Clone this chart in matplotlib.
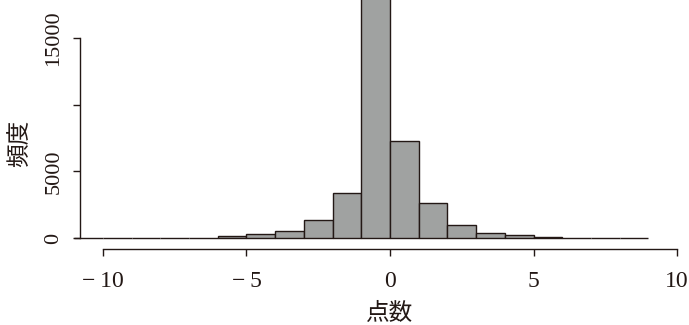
import matplotlib
matplotlib.use('Agg')
import matplotlib.pyplot as plt

# ---- data ----
bin_edges = list(range(-11, 10))
counts = [0, 0, 0, 0, 0, 150, 290, 550, 1350, 3350, 20600, 7250, 2650, 980, 400, 220, 110, 0, 0, 0]
x_ticks = [-10, -5, 0, 5, 10]
x_tick_labels = ['\u2212\u200910', '\u2212\u20095', '0', '5', '10']
y_ticks = [0, 5000, 10000, 15000]
y_tick_labels = ['0', '5000', '', '15000']
xlabel = '点数'
ylabel = '頻度'

W, H = 689, 325
fig = plt.figure(figsize=(W / 100, H / 100), dpi=100)
ink = '#231815'
fill = '#a0a2a1'

# axes in pixel geometry (R-like plot region, partly beyond the figure)
left_px, right_px, bottom_px, top_px = 80, 700, 249, -47.6
ax = fig.add_axes([left_px / W, (H - bottom_px) / H,
                   (right_px - left_px) / W, (bottom_px - top_px) / H])

ymax = max(counts)
ax.set_xlim(-10.8, 10.8)
ax.set_ylim(-0.04 * ymax, 1.04 * ymax)

lefts = bin_edges[:-1]
widths = [b - a for a, b in zip(bin_edges[:-1], bin_edges[1:])]
ax.bar(lefts, counts, width=widths, align='edge', color=fill,
       edgecolor=ink, linewidth=1.0, clip_on=False)

for s in ['top', 'right']:
    ax.spines[s].set_visible(False)
ax.spines['left'].set_bounds(y_ticks[0], y_ticks[-1])
ax.spines['bottom'].set_bounds(x_ticks[0], x_ticks[-1])
for s in ['left', 'bottom']:
    ax.spines[s].set_color(ink)
    ax.spines[s].set_linewidth(1.0)

ax.set_xticks(x_ticks)
ax.set_xticklabels(x_tick_labels, fontfamily='Liberation Serif', fontsize=17, color=ink)
ax.set_yticks(y_ticks)
ax.set_yticklabels(y_tick_labels, fontfamily='Liberation Serif', fontsize=16, color=ink,
                   rotation=90, va='center')
ax.tick_params(axis='x', direction='out', length=5, width=1.0, colors=ink, pad=11)
ax.tick_params(axis='y', direction='out', length=5, width=1.0, colors=ink, pad=7)
ax.patch.set_visible(False)

fig.text(390 / W, 1 - 313 / H, xlabel, ha='center', va='center',
         fontfamily=['Noto Sans CJK JP', 'DejaVu Sans'], fontsize=17, color=ink)
fig.text(20 / W, 1 - 143 / H, ylabel, ha='center', va='center', rotation=90,
         fontfamily=['Noto Sans CJK JP', 'DejaVu Sans'], fontsize=17, color=ink)

fig.savefig('out.png', dpi=100)
